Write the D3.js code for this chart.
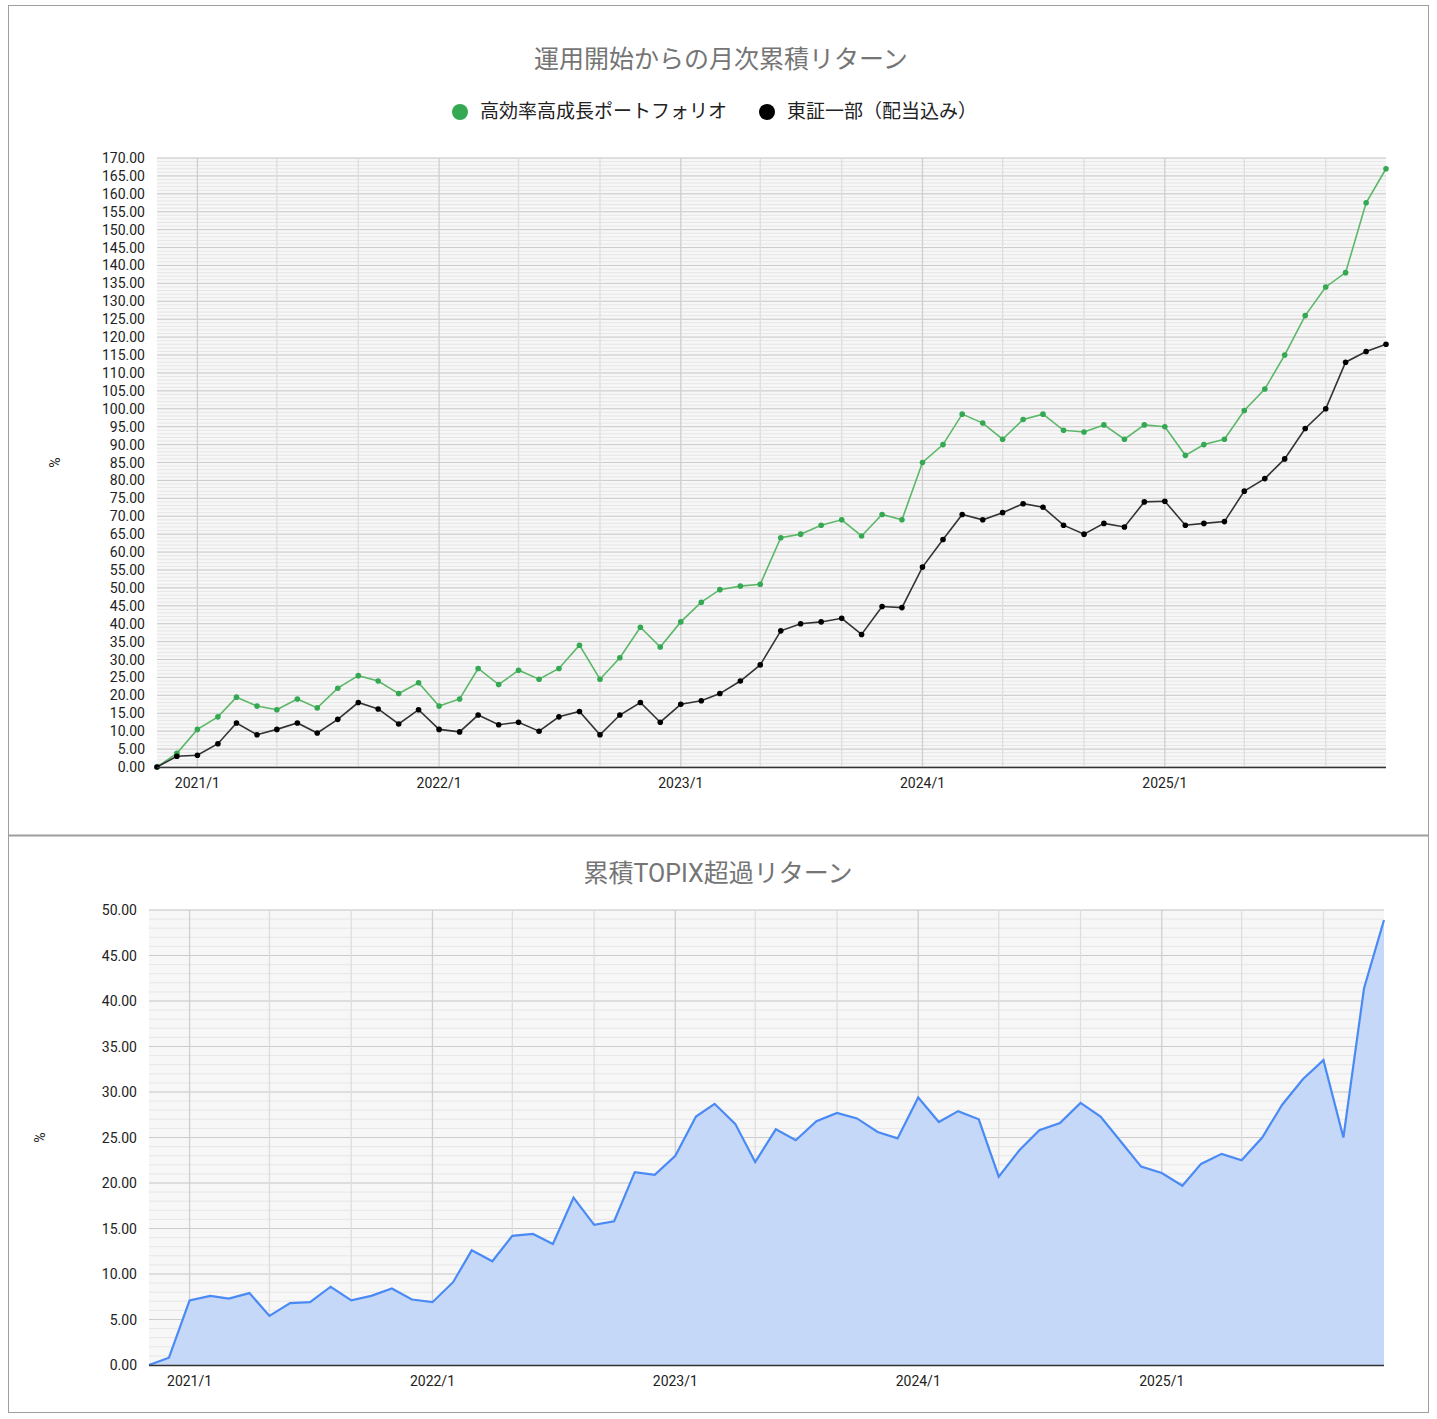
<!DOCTYPE html>
<html><head><meta charset="utf-8">
<script src="https://cdn.jsdelivr.net/npm/d3@7"></script>
<style>body{margin:0;background:#fff;font-family:Roboto,"Noto Sans CJK JP",sans-serif}</style>
</head><body><svg id="c" width="1437" height="1419"></svg>
<script>
const startYear=2020, startMonth=11;
const greenSeries=[0,3.8,10.5,14,19.5,17,16,19,16.5,22,25.5,24,20.5,23.5,17,19,27.5,23,27,24.5,27.5,34,24.5,30.5,39,33.5,40.5,46,49.5,50.5,51,64,65,67.5,69,64.5,70.5,69,85,90,98.5,96,91.5,97,98.5,94,93.5,95.5,91.5,95.5,95,87,90,91.5,99.5,105.5,115,126,134,138,157.5,167];
const blackSeries=[0,3,3.3,6.5,12.3,9,10.5,12.3,9.5,13.3,18,16.2,12,16,10.5,9.8,14.5,11.8,12.5,10,14,15.5,9,14.5,18,12.5,17.5,18.5,20.5,24,28.5,38,40,40.5,41.5,37,44.8,44.5,55.8,63.5,70.5,69,71,73.5,72.5,67.5,65,68,67,74,74.2,67.5,68,68.5,77,80.5,86,94.5,100,113,116,118];
const excessSeries=[0,0.8,7.1,7.6,7.3,7.9,5.4,6.8,6.9,8.6,7.1,7.6,8.4,7.2,6.9,9.1,12.6,11.4,14.2,14.4,13.3,18.4,15.4,15.8,21.2,20.9,23,27.3,28.7,26.5,22.3,25.9,24.7,26.8,27.7,27.1,25.6,24.9,29.4,26.7,27.9,27,20.7,23.6,25.8,26.6,28.8,27.3,24.5,21.8,21.1,19.7,22.1,23.2,22.5,25,28.6,31.4,33.5,25,41.4,48.9];
const seriesNames=["高効率高成長ポートフォリオ","東証一部（配当込み）"];
const titles=["運用開始からの月次累積リターン","累積TOPIX超過リターン"];
const xTickLabels=["2021/1","2022/1","2023/1","2024/1","2025/1"];
const dates=greenSeries.map((_,i)=>new Date(startYear,startMonth-1+i,1));

const svg=d3.select("#c");
svg.append("rect").attr("x",8.5).attr("y",5.5).attr("width",1420).attr("height",1407).attr("fill","none").attr("stroke","#9e9e9e");
svg.append("line").attr("x1",8).attr("x2",1429).attr("y1",835.5).attr("y2",835.5).attr("stroke","#9e9e9e").attr("stroke-width",2);

function panel(o){
  const x=d3.scaleTime().domain([dates[0],dates[dates.length-1]]).range([o.x0,o.x1]);
  const y=d3.scaleLinear().domain([0,o.max]).range([o.y1,o.y0]);
  const g=svg.append("g");
  g.append("rect").attr("x",o.x0).attr("y",o.y0).attr("width",o.x1-o.x0).attr("height",o.y1-o.y0).attr("fill","#f7f7f7");
  for(let v=0;v<=o.max;v+=o.minor){
    g.append("line").attr("x1",o.x0).attr("x2",o.x1).attr("y1",y(v)).attr("y2",y(v)).attr("stroke","#e6e6e6");
  }
  const majors=d3.range(0,o.max+0.001,o.major);
  g.selectAll(".mj").data(majors).enter().append("line").attr("x1",o.x0).attr("x2",o.x1).attr("y1",d=>y(d)).attr("y2",d=>y(d)).attr("stroke","#cccccc");
  const vt=dates.filter(d=>(d.getMonth()%4)===0);
  g.selectAll(".vt").data(vt).enter().append("line").attr("x1",d=>x(d)).attr("x2",d=>x(d)).attr("y1",o.y0).attr("y2",o.y1).attr("stroke",d=>d.getMonth()===0?"#cfcfcf":"#dedede").attr("stroke-width",1.3);
  g.selectAll(".yl").data(majors).enter().append("text").attr("x",o.x0-12).attr("y",d=>y(d)+5).attr("text-anchor","end").attr("font-size",14).attr("fill","#222").text(d=>d.toFixed(2));
  const yt=dates.filter(d=>d.getMonth()===0);
  g.selectAll(".xl").data(yt).enter().append("text").attr("x",d=>x(d)).attr("y",o.y1+21).attr("text-anchor","middle").attr("font-size",14).attr("fill","#222").text((d,i)=>xTickLabels[i]);
  g.append("text").attr("transform",`translate(${o.ylx},${(o.y0+o.y1)/2}) rotate(-90)`).attr("text-anchor","middle").attr("font-size",14).attr("fill","#222").text("%");
  g.append("text").attr("x",o.tx).attr("y",o.ty).attr("text-anchor","middle").attr("font-size",25).attr("fill","#757575").text(o.title);
  return {x,y,g};
}

const p1=panel({x0:157,x1:1386,y0:158,y1:767,max:170,major:5,minor:1,ylx:60,tx:721,ty:68,title:titles[0]});
[[greenSeries,"#34a853","#5cb868"],[blackSeries,"#000","#333"]].forEach(([s,c,lc])=>{
  p1.g.append("path").datum(s).attr("fill","none").attr("stroke",lc).attr("stroke-width",1.6)
   .attr("d",d3.line().x((d,i)=>p1.x(dates[i])).y(d=>p1.y(d)));
  p1.g.selectAll(null).data(s).enter().append("circle").attr("cx",(d,i)=>p1.x(dates[i])).attr("cy",d=>p1.y(d)).attr("r",2.8).attr("fill",c);
});
p1.g.append("line").attr("x1",157).attr("x2",1386).attr("y1",767.5).attr("y2",767.5).attr("stroke","#333").attr("stroke-width",1.5);
const leg=[[460,"#34a853",seriesNames[0]],[767,"#000",seriesNames[1]]];
leg.forEach(([lx,c,t])=>{
  svg.append("circle").attr("cx",lx).attr("cy",112).attr("r",8).attr("fill",c);
  svg.append("text").attr("x",lx+20).attr("y",118).attr("font-size",19).attr("fill","#222").text(t);
});

const p2=panel({x0:149,x1:1384,y0:910,y1:1365,max:50,major:5,minor:1,ylx:45,tx:718,ty:882,title:titles[1]});
p2.g.append("path").datum(excessSeries).attr("fill","#c6d8f8")
  .attr("d",d3.area().x((d,i)=>p2.x(dates[i])).y0(p2.y(0)).y1(d=>p2.y(d)));
p2.g.append("path").datum(excessSeries).attr("fill","none").attr("stroke","#4a8af4").attr("stroke-width",2.2)
  .attr("d",d3.line().x((d,i)=>p2.x(dates[i])).y(d=>p2.y(d)));
p2.g.append("line").attr("x1",149).attr("x2",1384).attr("y1",1365.5).attr("y2",1365.5).attr("stroke","#333").attr("stroke-width",1.5);
</script></body></html>
